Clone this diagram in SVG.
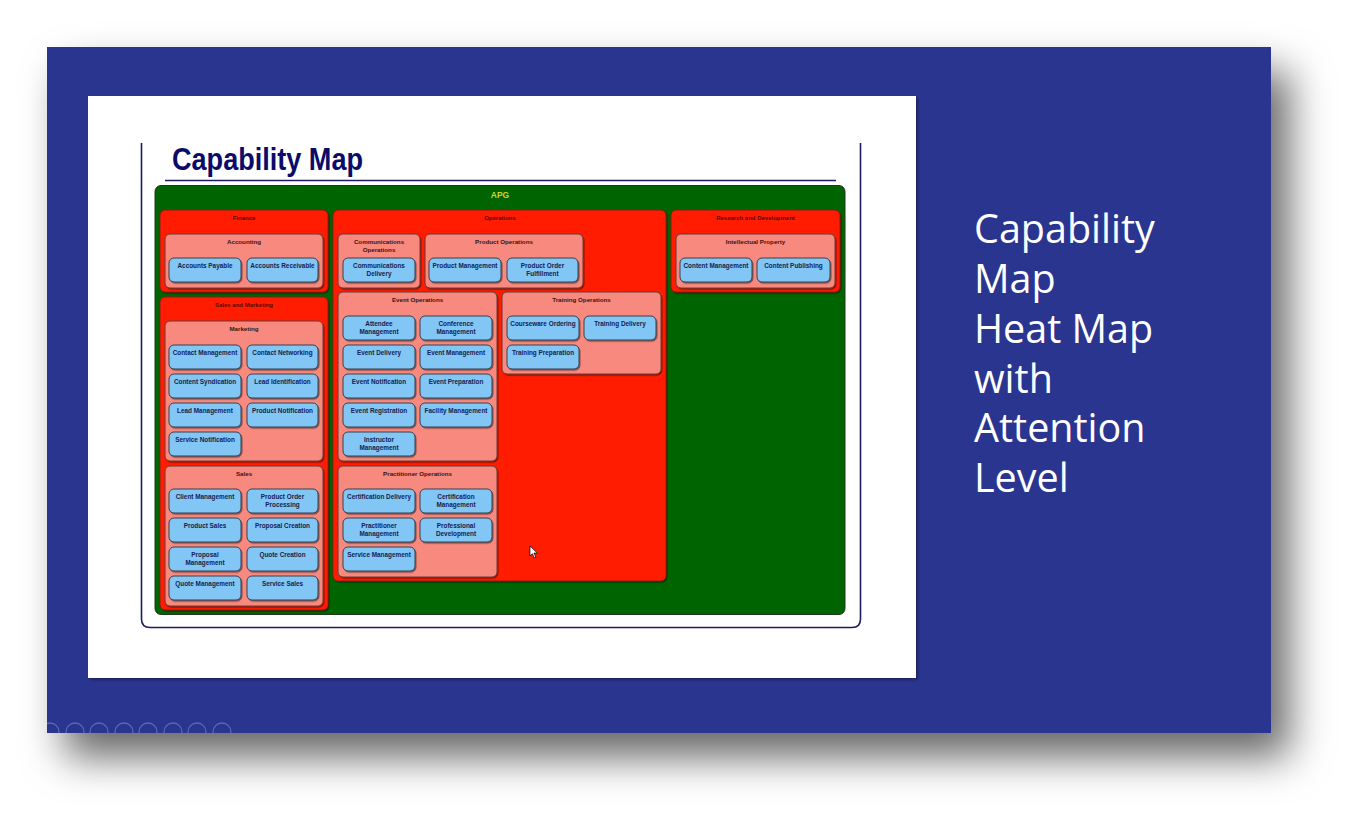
<svg xmlns="http://www.w3.org/2000/svg" width="1366" height="829" viewBox="0 0 1366 829">
<defs>
<filter id="slideShadow" x="-10%" y="-10%" width="130%" height="140%">
<feDropShadow dx="18" dy="24" stdDeviation="20" flood-color="#000" flood-opacity="0.6"/>
</filter>
<filter id="imgShadow" x="-5%" y="-5%" width="110%" height="112%">
<feDropShadow dx="2" dy="2" stdDeviation="1.5" flood-color="#000" flood-opacity="0.35"/>
</filter>
<filter id="boxShadow" x="-5%" y="-5%" width="115%" height="125%">
<feDropShadow dx="1" dy="1.2" stdDeviation="0.7" flood-color="#000" flood-opacity="0.45"/>
</filter>
<clipPath id="slideClip"><rect x="47" y="47" width="1224" height="686"/></clipPath>
</defs>
<style>
.apg{fill:#006400;stroke:#1e3a1e;stroke-width:1}
.l1{fill:#ff1a00;stroke:#8a1a10;stroke-width:1;filter:url(#boxShadow)}
.l2{fill:#f7897e;stroke:#6a3a36;stroke-width:1;filter:url(#boxShadow)}
.leaf{fill:#82c6f5;stroke:#34404e;stroke-width:1;filter:url(#boxShadow)}
.tl{font-family:"Liberation Sans",Arial,sans-serif;font-weight:bold;font-size:6.4px;fill:#14224e;text-anchor:middle}
.tc{font-family:"Liberation Sans",Arial,sans-serif;font-weight:bold;font-size:6.2px;fill:#3a1412;text-anchor:middle}
.tr{font-family:"Liberation Sans",Arial,sans-serif;font-weight:bold;font-size:6px;fill:#5a0a04;text-anchor:middle}
.side{font-family:"Open Sans","DejaVu Sans",sans-serif;font-size:39.5px;fill:#ffffff}
.frame{fill:none;stroke:#1c1c5c;stroke-width:1.6}
.icon{fill:none;stroke:#6c74b4;stroke-width:1.3;opacity:0.8}
</style>

<rect x="0" y="0" width="1366" height="829" fill="#ffffff"/>
<rect id="slide" x="47" y="47" width="1224" height="686" fill="#2b3590" filter="url(#slideShadow)"/>

<g id="toolbar" clip-path="url(#slideClip)">
<circle class="icon" cx="50" cy="732" r="9"/>
<circle class="icon" cx="75" cy="732" r="9"/>
<circle class="icon" cx="99" cy="732" r="9"/>
<circle class="icon" cx="124" cy="732" r="9"/>
<circle class="icon" cx="148" cy="732" r="9"/>
<circle class="icon" cx="173" cy="732" r="9"/>
<circle class="icon" cx="197" cy="732" r="9"/>
<circle class="icon" cx="222" cy="732" r="9"/>
</g>

<rect id="image" x="88" y="96" width="828" height="582" fill="#ffffff" filter="url(#imgShadow)"/>

<g id="frame">
<path class="frame" d="M141.5,143 V619 Q141.5,627.5 150,627.5 H852 Q860.5,627.5 860.5,619 V143"/>
<line class="frame" x1="165" y1="180.5" x2="836" y2="180.5"/>
<text x="172" y="169.5" font-family="Liberation Sans,Arial,sans-serif" font-weight="bold" font-size="31" fill="#0b0b6a" textLength="191" lengthAdjust="spacingAndGlyphs">Capability Map</text>
</g>

<g id="apg">
<rect class="apg" x="155" y="185.5" width="690" height="429" rx="6"/>
<text x="500" y="198" font-family="Liberation Sans,Arial,sans-serif" font-weight="bold" font-size="8.5" fill="#d2d22c" text-anchor="middle">APG</text>
</g>

<!-- Finance -->
<g id="finance">
<rect class="l1" x="160" y="210" width="168" height="82" rx="5"/>
<text class="tr" x="244" y="220">Finance</text>
</g>
<g id="accounting">
<rect class="l2" x="165" y="234" width="158" height="54" rx="5"/>
<text class="tc" x="244" y="244">Accounting</text>
</g>
<g id="accounts-payable"><rect class="leaf" x="169" y="258" width="72" height="24" rx="5"/><text class="tl" x="205" y="268.3">Accounts Payable</text></g>
<g id="accounts-receivable"><rect class="leaf" x="247" y="258" width="71" height="24" rx="5"/><text class="tl" x="282.5" y="268.3">Accounts Receivable</text></g>

<!-- Sales and Marketing -->
<g id="sales-and-marketing">
<rect class="l1" x="160" y="297" width="168" height="313" rx="5"/>
<text class="tr" x="244" y="307">Sales and Marketing</text>
</g>
<g id="marketing">
<rect class="l2" x="165" y="321" width="158" height="140" rx="5"/>
<text class="tc" x="244" y="331">Marketing</text>
</g>
<g id="contact-management"><rect class="leaf" x="169" y="345" width="72" height="24" rx="5"/><text class="tl" x="205" y="355.3">Contact Management</text></g>
<g id="contact-networking"><rect class="leaf" x="247" y="345" width="71" height="24" rx="5"/><text class="tl" x="282.5" y="355.3">Contact Networking</text></g>
<g id="content-syndication"><rect class="leaf" x="169" y="374" width="72" height="24" rx="5"/><text class="tl" x="205" y="384.3">Content Syndication</text></g>
<g id="lead-identification"><rect class="leaf" x="247" y="374" width="71" height="24" rx="5"/><text class="tl" x="282.5" y="384.3">Lead Identification</text></g>
<g id="lead-management"><rect class="leaf" x="169" y="403" width="72" height="24" rx="5"/><text class="tl" x="205" y="413.3">Lead Management</text></g>
<g id="product-notification"><rect class="leaf" x="247" y="403" width="71" height="24" rx="5"/><text class="tl" x="282.5" y="413.3">Product Notification</text></g>
<g id="service-notification"><rect class="leaf" x="169" y="432" width="72" height="24" rx="5"/><text class="tl" x="205" y="442.3">Service Notification</text></g>

<g id="sales">
<rect class="l2" x="165" y="466" width="158" height="140" rx="5"/>
<text class="tc" x="244" y="475.5">Sales</text>
</g>
<g id="client-management"><rect class="leaf" x="169" y="489" width="72" height="24" rx="5"/><text class="tl" x="205" y="499.3">Client Management</text></g>
<g id="product-order-processing"><rect class="leaf" x="247" y="489" width="71" height="24" rx="5"/><text class="tl" x="282.5" y="499.3">Product Order</text><text class="tl" x="282.5" y="507">Processing</text></g>
<g id="product-sales"><rect class="leaf" x="169" y="518" width="72" height="24" rx="5"/><text class="tl" x="205" y="528.3">Product Sales</text></g>
<g id="proposal-creation"><rect class="leaf" x="247" y="518" width="71" height="24" rx="5"/><text class="tl" x="282.5" y="528.3">Proposal Creation</text></g>
<g id="proposal-management"><rect class="leaf" x="169" y="547" width="72" height="24" rx="5"/><text class="tl" x="205" y="557.3">Proposal</text><text class="tl" x="205" y="565">Management</text></g>
<g id="quote-creation"><rect class="leaf" x="247" y="547" width="71" height="24" rx="5"/><text class="tl" x="282.5" y="557.3">Quote Creation</text></g>
<g id="quote-management"><rect class="leaf" x="169" y="576" width="72" height="24" rx="5"/><text class="tl" x="205" y="586.3">Quote Management</text></g>
<g id="service-sales"><rect class="leaf" x="247" y="576" width="71" height="24" rx="5"/><text class="tl" x="282.5" y="586.3">Service Sales</text></g>

<!-- Operations -->
<g id="operations">
<rect class="l1" x="333" y="210" width="333" height="371" rx="5"/>
<text class="tr" x="500" y="220">Operations</text>
</g>
<g id="communications-operations">
<rect class="l2" x="338" y="234" width="82" height="54" rx="5"/>
<text class="tc" x="379" y="244">Communications</text>
<text class="tc" x="379" y="252">Operations</text>
</g>
<g id="communications-delivery"><rect class="leaf" x="343" y="258" width="72" height="24" rx="5"/><text class="tl" x="379" y="268.3">Communications</text><text class="tl" x="379" y="276">Delivery</text></g>
<g id="product-operations">
<rect class="l2" x="425" y="234" width="158" height="54" rx="5"/>
<text class="tc" x="504" y="244">Product Operations</text>
</g>
<g id="product-management"><rect class="leaf" x="429" y="258" width="72" height="24" rx="5"/><text class="tl" x="465" y="268.3">Product Management</text></g>
<g id="product-order-fulfillment"><rect class="leaf" x="507" y="258" width="71" height="24" rx="5"/><text class="tl" x="542.5" y="268.3">Product Order</text><text class="tl" x="542.5" y="276">Fulfillment</text></g>

<g id="event-operations">
<rect class="l2" x="338" y="292" width="159" height="169" rx="5"/>
<text class="tc" x="417.5" y="302">Event Operations</text>
</g>
<g id="attendee-management"><rect class="leaf" x="343" y="316" width="72" height="24" rx="5"/><text class="tl" x="379" y="326.3">Attendee</text><text class="tl" x="379" y="334">Management</text></g>
<g id="conference-management"><rect class="leaf" x="420" y="316" width="72" height="24" rx="5"/><text class="tl" x="456" y="326.3">Conference</text><text class="tl" x="456" y="334">Management</text></g>
<g id="event-delivery"><rect class="leaf" x="343" y="345" width="72" height="24" rx="5"/><text class="tl" x="379" y="355.3">Event Delivery</text></g>
<g id="event-management"><rect class="leaf" x="420" y="345" width="72" height="24" rx="5"/><text class="tl" x="456" y="355.3">Event Management</text></g>
<g id="event-notification"><rect class="leaf" x="343" y="374" width="72" height="24" rx="5"/><text class="tl" x="379" y="384.3">Event Notification</text></g>
<g id="event-preparation"><rect class="leaf" x="420" y="374" width="72" height="24" rx="5"/><text class="tl" x="456" y="384.3">Event Preparation</text></g>
<g id="event-registration"><rect class="leaf" x="343" y="403" width="72" height="24" rx="5"/><text class="tl" x="379" y="413.3">Event Registration</text></g>
<g id="facility-management"><rect class="leaf" x="420" y="403" width="72" height="24" rx="5"/><text class="tl" x="456" y="413.3">Facility Management</text></g>
<g id="instructor-management"><rect class="leaf" x="343" y="432" width="72" height="24" rx="5"/><text class="tl" x="379" y="442.3">Instructor</text><text class="tl" x="379" y="450">Management</text></g>

<g id="training-operations">
<rect class="l2" x="502" y="292" width="159" height="82" rx="5"/>
<text class="tc" x="581.5" y="302">Training Operations</text>
</g>
<g id="courseware-ordering"><rect class="leaf" x="507" y="316" width="72" height="24" rx="5"/><text class="tl" x="543" y="326.3">Courseware Ordering</text></g>
<g id="training-delivery"><rect class="leaf" x="584" y="316" width="72" height="24" rx="5"/><text class="tl" x="620" y="326.3">Training Delivery</text></g>
<g id="training-preparation"><rect class="leaf" x="507" y="345" width="72" height="24" rx="5"/><text class="tl" x="543" y="355.3">Training Preparation</text></g>

<g id="practitioner-operations">
<rect class="l2" x="338" y="466" width="159" height="111" rx="5"/>
<text class="tc" x="417.5" y="475.5">Practitioner Operations</text>
</g>
<g id="certification-delivery"><rect class="leaf" x="343" y="489" width="72" height="24" rx="5"/><text class="tl" x="379" y="499.3">Certification Delivery</text></g>
<g id="certification-management"><rect class="leaf" x="420" y="489" width="72" height="24" rx="5"/><text class="tl" x="456" y="499.3">Certification</text><text class="tl" x="456" y="507">Management</text></g>
<g id="practitioner-management"><rect class="leaf" x="343" y="518" width="72" height="24" rx="5"/><text class="tl" x="379" y="528.3">Practitioner</text><text class="tl" x="379" y="536">Management</text></g>
<g id="professional-development"><rect class="leaf" x="420" y="518" width="72" height="24" rx="5"/><text class="tl" x="456" y="528.3">Professional</text><text class="tl" x="456" y="536">Development</text></g>
<g id="service-management"><rect class="leaf" x="343" y="547" width="72" height="24" rx="5"/><text class="tl" x="379" y="557.3">Service Management</text></g>

<!-- Research and Development -->
<g id="research-and-development">
<rect class="l1" x="671" y="210" width="169" height="82" rx="5"/>
<text class="tr" x="755.5" y="220">Research and Development</text>
</g>
<g id="intellectual-property">
<rect class="l2" x="676" y="234" width="159" height="54" rx="5"/>
<text class="tc" x="755.5" y="244">Intellectual Property</text>
</g>
<g id="content-management"><rect class="leaf" x="680" y="258" width="72" height="24" rx="5"/><text class="tl" x="716" y="268.3">Content Management</text></g>
<g id="content-publishing"><rect class="leaf" x="757" y="258" width="73" height="24" rx="5"/><text class="tl" x="793.5" y="268.3">Content Publishing</text></g>

<g id="connectors"></g>

<polygon id="cursor" points="530,546 530,556 532.4,553.7 534.3,558 535.9,557.3 534,553.1 537.3,553.1" fill="#ffffff" stroke="#000000" stroke-width="0.7"/>

<g id="side-title">
<text class="side" x="974" y="243">Capability</text>
<text class="side" x="974" y="293">Map</text>
<text class="side" x="974" y="343">Heat Map</text>
<text class="side" x="974" y="393">with</text>
<text class="side" x="974" y="442">Attention</text>
<text class="side" x="974" y="492">Level</text>
</g>
</svg>
